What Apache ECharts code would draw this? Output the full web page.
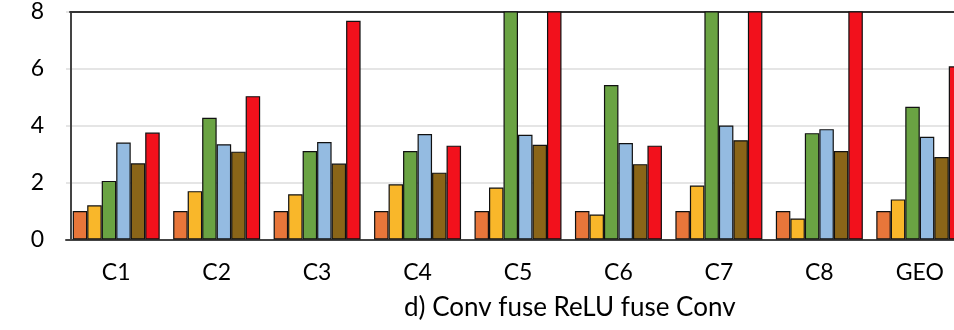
<!DOCTYPE html>
<html>
<head>
<meta charset="utf-8">
<script src="https://cdn.jsdelivr.net/npm/echarts@6/dist/echarts.min.js"></script>
<style>html,body{margin:0;padding:0;background:#fff;}#c{width:954px;height:330px;}</style>
</head>
<body>
<div id="c"></div>
<script>
const categories = ['C1','C2','C3','C4','C5','C6','C7','C8','GEO'];
const yTicks = [0, 2, 4, 6, 8];
const seriesNames = ['S1','S2','S3','S4','S5','S6'];
const s1 = [1.00, 1.00, 1.00, 1.00, 1.00, 1.00, 1.00, 1.00, 1.00];
const s2 = [1.20, 1.70, 1.59, 1.94, 1.83, 0.88, 1.90, 0.74, 1.41];
const s3 = [2.06, 4.28, 3.11, 3.11, 10.0, 5.43, 10.0, 3.74, 4.67];
const s4 = [3.41, 3.35, 3.43, 3.71, 3.68, 3.39, 4.01, 3.88, 3.61];
const s5 = [2.68, 3.09, 2.67, 2.35, 3.33, 2.65, 3.49, 3.11, 2.90];
const s6 = [3.76, 5.04, 7.69, 3.30, 10.0, 3.30, 10.0, 10.0, 6.09];
const title = 'd) Conv fuse ReLU fuse Conv';

const colors = ['#E8763A','#F9B72A','#6AA343','#94BBE1','#8A6518','#F2111C'];
const data = [s1, s2, s3, s4, s5, s6];
const FONT = 'Lato';

const chart = echarts.init(document.getElementById('c'), null, {renderer: 'canvas'});
chart.setOption({
  animation: false,
  backgroundColor: '#fff',
  title: {
    text: title, left: 399, top: 290,
    textStyle: {fontFamily: FONT, fontSize: 26, fontWeight: 'normal', color: '#000'}
  },
  grid: [
    {left: 66, width: 904, top: 12, height: 227.5, containLabel: false, outerBoundsMode: 'none'},
    {left: 70, width: 900, top: 11, height: 1, outerBoundsMode: 'none'}
  ],
  xAxis: [
    {
      type: 'category', data: categories, gridIndex: 0, offset: 2,
      axisLine: {show: true, lineStyle: {color: '#444', width: 2}},
      axisTick: {show: false},
      axisLabel: {fontFamily: FONT, fontSize: 23, color: '#000', margin: 20}
    },
    {
      type: 'value', gridIndex: 1, min: 0, max: 1, position: 'bottom',
      axisLine: {show: true, onZero: false, lineStyle: {color: '#333', width: 2}},
      axisTick: {show: false}, axisLabel: {show: false}, splitLine: {show: false}
    }
  ],
  yAxis: [
    {
      type: 'value', gridIndex: 0, min: yTicks[0], max: yTicks[yTicks.length - 1], interval: 2, offset: -5,
      axisLine: {show: true, lineStyle: {color: '#444', width: 2}},
      axisTick: {show: false},
      splitLine: {show: true, lineStyle: {color: '#DDDDDD', width: 1.5}},
      axisLabel: {fontFamily: FONT, fontSize: 23, color: '#000', margin: 27}
    },
    {
      type: 'value', gridIndex: 1, show: false
    }
  ],
  series: data.map((d, i) => ({
    type: 'bar', name: seriesNames[i], data: d,
    xAxisIndex: 0, yAxisIndex: 0,
    barGap: '0%', barCategoryGap: '13.4%',
    clip: true,
    itemStyle: {color: colors[i], borderColor: '#111', borderWidth: 1.2}
  }))
});
</script>
</body>
</html>
